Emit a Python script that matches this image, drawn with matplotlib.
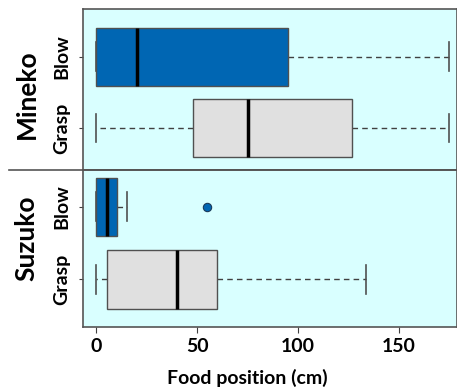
import matplotlib.pyplot as plt
from matplotlib.lines import Line2D

plt.rcParams['font.family'] = ['Lato', 'DejaVu Sans']
plt.rcParams['font.weight'] = 'bold'

# five-number summaries (cm)
subjects = ['Mineko', 'Suzuko']
conditions = ['Grasp', 'Blow']  # bottom -> top within each panel
whislo = {'Mineko': [0, 0], 'Suzuko': [0, 0]}
q1 = {'Mineko': [48, 0], 'Suzuko': [5, 0]}
med = {'Mineko': [75, 20], 'Suzuko': [40, 5]}
q3 = {'Mineko': [127, 95], 'Suzuko': [60, 10]}
whishi = {'Mineko': [175, 175], 'Suzuko': [134, 15]}
fliers = {'Mineko': [[], []], 'Suzuko': [[], [55]]}

box_colors = ['#E0E0E0', '#0066B3']
bg = '#D9FFFF'

fig = plt.figure(figsize=(4.57, 3.91), dpi=100)
left, right = 83 / 457, 1.0
y_top, y_mid, y_bot = 1 - 9 / 391, 1 - 170 / 391, 1 - 327 / 391
ax_top = fig.add_axes([left, y_mid, right - left, y_top - y_mid])
ax_bot = fig.add_axes([left, y_bot, right - left, y_mid - y_bot], sharex=ax_top)

panels = [(ax_top, 'Mineko', (0.41, 2.67), 0.47), (ax_bot, 'Suzuko', (0.34, 2.51), 0.565)]
for ax, subj, ylim, label_y in panels:
    stats = []
    for i, cond in enumerate(conditions):
        stats.append(dict(whislo=whislo[subj][i], q1=q1[subj][i], med=med[subj][i],
                          q3=q3[subj][i], whishi=whishi[subj][i], fliers=fliers[subj][i]))
    bp = ax.bxp(stats, positions=[1, 2], vert=False, widths=0.81, patch_artist=True,
                capwidths=0.4,
                boxprops=dict(edgecolor='#505050', linewidth=1.0, zorder=3),
                medianprops=dict(color='black', linewidth=2.5, zorder=4),
                whiskerprops=dict(color='#404040', linestyle=(0, (4, 3)), linewidth=1.0, zorder=2),
                capprops=dict(color='#505050', linewidth=1.2, zorder=2),
                flierprops=dict(marker='o', markerfacecolor='#0066B3', markeredgecolor='#1A3A5A',
                                markersize=6, markeredgewidth=0.8))
    for patch, c in zip(bp['boxes'], box_colors):
        patch.set_facecolor(c)
    ax.set_facecolor(bg)
    ax.set_ylim(*ylim)
    ax.set_yticks([1, 2])
    ax.set_yticklabels(conditions, rotation=90, va='center', fontsize=14, fontweight='bold')
    ax.tick_params(axis='y', length=3, pad=6, color='#404040')
    for s in ax.spines.values():
        s.set_color('#555555')
        s.set_linewidth(1.2)
    ax.text(-0.15, label_y, subj, transform=ax.transAxes, rotation=90, ha='center', va='center',
            fontsize=19, fontweight='bold')

ax_top.set_xlim(-6.7, 179)
ax_top.tick_params(axis='x', bottom=False, labelbottom=False)
ax_bot.set_xticks([0, 50, 100, 150])
ax_bot.tick_params(axis='x', labelsize=14, length=4, color='#404040', pad=4)
for lab in ax_bot.get_xticklabels():
    lab.set_fontweight('bold')
ax_bot.set_xlabel('Food position (cm)', fontsize=14, fontweight='bold', labelpad=8)
ax_bot.xaxis.set_label_coords(0.44, -0.27)

# divider line reaching into the label margin
fig.add_artist(Line2D([9 / 457, 1.0], [y_mid, y_mid], transform=fig.transFigure,
                      color='#555555', linewidth=1.2))

fig.savefig('out.png', dpi=100, facecolor='white')
